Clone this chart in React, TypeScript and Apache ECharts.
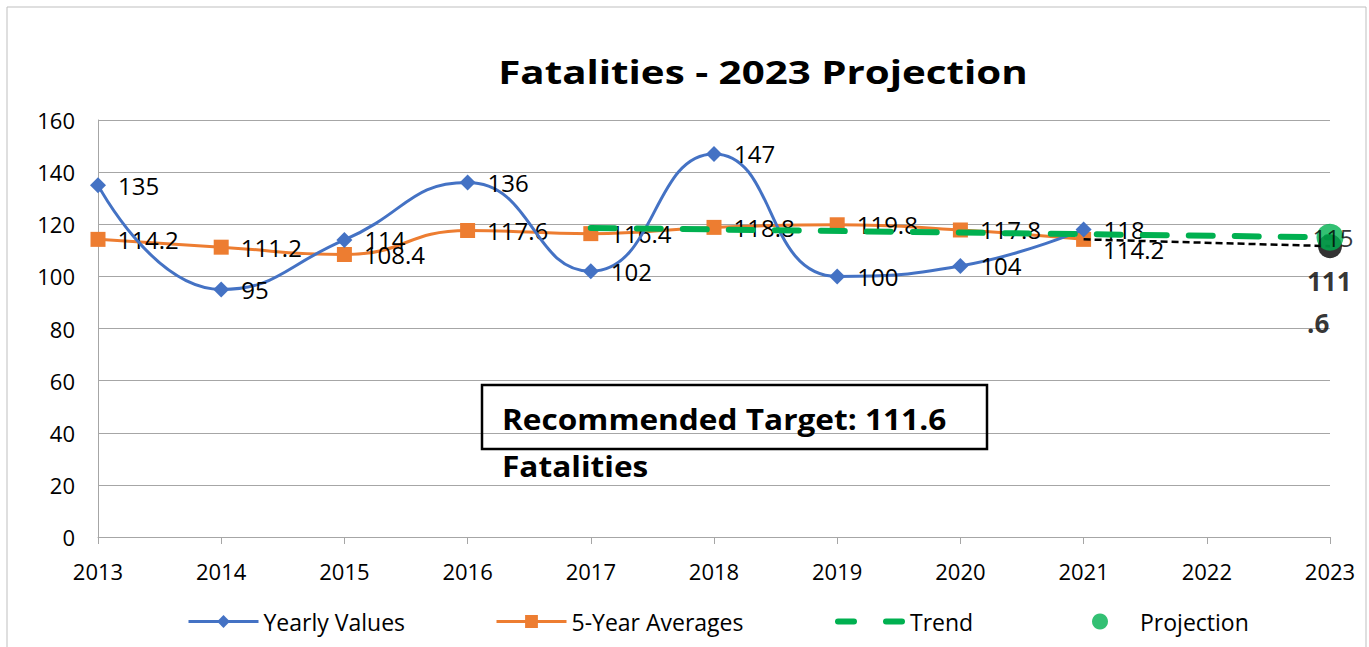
import React, { useEffect, useRef } from "react";
import * as echarts from "echarts";

const years = ["2013", "2014", "2015", "2016", "2017", "2018", "2019", "2020", "2021", "2022", "2023"];
const yearlyValues = [135, 95, 114, 136, 102, 147, 100, 104, 118, null, null];
const fiveYearAverages = [114.2, 111.2, 108.4, 117.6, 116.4, 118.8, 119.8, 117.8, 114.2, null, null];
const trendValues = [null, null, null, null, 118.6, null, null, null, null, null, 115];
const projectionValue = 115;
const targetLineValues = [null, null, null, null, null, null, null, null, 114.2, null, 111.6];
const targetValue = 111.6;
const yTicks = { min: 0, max: 160, interval: 20 };

const FONT = "'Open Sans', 'Noto Sans', sans-serif";

export default function App() {
  const ref = useRef<HTMLDivElement>(null);
  useEffect(() => {
    if (!ref.current) return;
    const chart = echarts.init(ref.current, null, { renderer: "svg" });
    const lbl = { show: true, position: "right", distance: 12, fontSize: 24, color: "#000", fontFamily: FONT };
    const legendText = { fontSize: 23, color: "#000", fontFamily: FONT };
    chart.setOption({
      animation: false,
      textStyle: { fontFamily: FONT },
      grid: { left: 98, right: 39, top: 120, bottom: 110 },
      legend: [
        { data: ["Yearly Values"], left: 187, top: 610 },
        { data: ["5-Year Averages"], left: 495, top: 610 },
        {
          data: [{ name: "Trend", icon: "path://M3,0 H19 A3,3 0 0 1 19,6 H3 A3,3 0 0 1 3,0 Z M51,0 H67 A3,3 0 0 1 67,6 H51 A3,3 0 0 1 51,0 Z" }],
          left: 835,
          top: 610,
          itemHeight: 6,
        },
        { data: [{ name: "Projection", icon: "circle" }], left: 1092, top: 610 },
      ].map((l) => ({
        itemWidth: 70,
        itemHeight: 16,
        ...l,
        padding: 0,
        itemGap: 0,
        lineStyle: { width: 3 },
        textStyle: legendText,
      })),
      xAxis: {
        type: "category",
        data: years,
        boundaryGap: false,
        axisLine: { lineStyle: { color: "#a6a6a6", width: 1 } },
        axisTick: { show: true, length: 7, lineStyle: { color: "#a6a6a6" } },
        axisLabel: { fontSize: 22, color: "#000", margin: 23, fontFamily: FONT },
      },
      yAxis: {
        type: "value",
        min: yTicks.min,
        max: yTicks.max,
        interval: yTicks.interval,
        axisLine: { show: true, lineStyle: { color: "#a6a6a6", width: 1 } },
        axisTick: { show: false },
        splitLine: { lineStyle: { color: "#a6a6a6", width: 1 } },
        axisLabel: { fontSize: 22, color: "#000", margin: 23, fontFamily: FONT },
      },
      graphic: [
        {
          type: "rect",
          shape: { x: 7, y: 7, width: 1359, height: 660 },
          style: { fill: "none", stroke: "#bfbfbf", lineWidth: 1 },
          z: -10,
        },
        {
          type: "text",
          x: 763,
          y: 72,
          scaleX: 1.26,
          style: {
            text: "Fatalities - 2023 Projection",
            font: "bold 32px " + FONT,
            fill: "#000",
            textAlign: "center",
            textVerticalAlign: "middle",
          },
          z: 100,
        },
        {
          type: "rect",
          shape: { x: 482, y: 385, width: 505, height: 64 },
          style: { fill: "none", stroke: "#000", lineWidth: 2.5 },
          z: 100,
        },
        {
          type: "text",
          x: 502,
          y: 396,
          scaleX: 1.09,
          style: {
            text: "Recommended Target: 111.6\nFatalities",
            font: "bold 29px " + FONT,
            fill: "#000",
            lineHeight: 47,
          },
          z: 100,
        },
      ],
      series: [
        {
          name: "5-Year Averages",
          type: "line",
          data: fiveYearAverages.map((v, i) =>
            i === 8 ? { value: v, label: { offset: [0, 10] } } : v
          ),
          smooth: 0.5,
          symbol: "rect",
          symbolSize: 15,
          lineStyle: { color: "#ed7d31", width: 3 },
          itemStyle: { color: "#ed7d31" },
          label: lbl,
          z: 3,
        },
        {
          name: "Yearly Values",
          type: "line",
          data: yearlyValues,
          smooth: 0.5,
          symbol: "diamond",
          symbolSize: 16,
          lineStyle: { color: "#4472c4", width: 3 },
          itemStyle: { color: "#4472c4" },
          label: lbl,
          z: 4,
        },
        {
          name: "Target Line",
          type: "line",
          data: targetLineValues,
          connectNulls: true,
          symbol: "none",
          lineStyle: { color: "#000", width: 2.5, type: [7, 4] },
          z: 5,
        },
        {
          name: "Trend",
          type: "line",
          data: trendValues,
          connectNulls: true,
          symbol: "none",
          lineStyle: { color: "#00b050", width: 6, type: [24, 22], cap: "round" },
          itemStyle: { color: "#00b050" },
          z: 6,
        },
        {
          name: "Target",
          type: "scatter",
          data: [[years[10], targetValue]],
          symbol: "circle",
          symbolSize: 24,
          itemStyle: { color: "#000" },
          label: {
            show: true,
            position: [-11, 26],
            formatter: "111\n.6",
            fontSize: 26,
            fontWeight: "bold",
            lineHeight: 42,
            color: "#000",
            align: "left",
            fontFamily: FONT,
          },
          z: 7,
        },
        {
          name: "Projection",
          type: "scatter",
          data: [[years[10], projectionValue]],
          symbol: "circle",
          symbolSize: 27,
          itemStyle: { color: "#00b050" },
          label: {
            show: true,
            position: "inside",
            offset: [3, 0],
            fontSize: 24,
            color: "#000",
            fontFamily: FONT,
          },
          z: 8,
        },
      ],
    });
    return () => chart.dispose();
  }, []);
  return (
    <div
      ref={ref}
      style={{ position: "fixed", left: 0, top: 0, width: 1369, height: 647, background: "#fff" }}
    />
  );
}
